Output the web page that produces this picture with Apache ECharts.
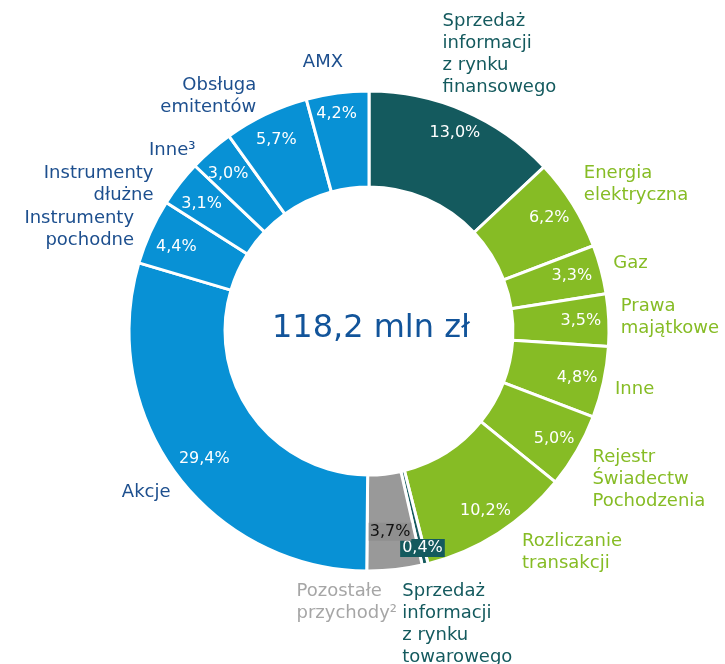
<!DOCTYPE html>
<html>
<head>
<meta charset="utf-8">
<script src="https://cdn.jsdelivr.net/npm/echarts@6/dist/echarts.min.js"></script>
<style>
  html, body { margin: 0; padding: 0; background: #fff; }
  #revenue { width: 725px; height: 664px; }
</style>
</head>
<body>
<div id="revenue"></div>
<script>
'use strict';

// revenue segments, clockwise from 12 o'clock
var segments = [
    'Sprzedaż\ninformacji\nz rynku\nfinansowego',
    'Energia\nelektryczna',
    'Gaz',
    'Prawa\nmajątkowe',
    'Inne',
    'Rejestr\nŚwiadectw\nPochodzenia',
    'Rozliczanie\ntransakcji',
    'Sprzedaż\ninformacji\nz rynku\ntowarowego',
    'Pozostałe\nprzychody²',
    'Akcje',
    'Instrumenty\npochodne',
    'Instrumenty\ndłużne',
    'Inne³',
    'Obsługa\nemitentów',
    'AMX'
];
var shares = [13.0, 6.2, 3.3, 3.5, 4.8, 5.0, 10.2, 0.4, 3.7, 29.4, 4.4, 3.1, 3.0, 5.7, 4.2];
var groups = ['info', 'power', 'power', 'power', 'power', 'power', 'power', 'info', 'other',
              'cash', 'cash', 'cash', 'cash', 'cash', 'cash'];
var totalLabel = '118,2 mln zł';

var fillColors = { info: '#145a5e', power: '#86bc25', other: '#999999', cash: '#0891d5' };
var textColors = { info: '#145a5e', power: '#86bc25', other: '#a6a6a6', cash: '#1d4f8e' };

// hand nudges for the labels, same order as segments
var nameNudge = [[-29, -40], [-4, -10], [-5, -1], [-6, -2], [-6, 3], [0, 19], [14, 4],
                 [-27, 42], [-100, 15], [9, 8], [0, 5], [-12, 12], [-4, 14], [-2, -2], [8, -13]];
var pctNudge = [[0, 0], [-3, 1], [-6, 0], [-4, 0], [-3, 1], [-2, 0], [0, -2],
                [3, 7], [-2, -14], [9, -1], [4, 5], [3, 6], [1, 6], [0, 4], [-4, -3]];

var FONT = '"DejaVu Sans", Verdana, sans-serif';
var CENTER = [369, 331];

function pct(v) {
    return v.toFixed(1).replace('.', ',') + '%';
}

var chart = echarts.init(document.getElementById('revenue'));

var ringData = segments.map(function (name, i) {
    return { name: name, value: shares[i], itemStyle: { color: fillColors[groups[i]] } };
});

var pctData = segments.map(function (name, i) {
    var item = { name: name, value: shares[i], label: { offset: pctNudge[i] } };
    if (groups[i] === 'other') {
        item.label.backgroundColor = '#8f8f8f';
        item.label.color = '#111';
        item.label.padding = [2, 1, 0, 1];
    } else if (groups[i] === 'info' && shares[i] < 1) {
        item.label.backgroundColor = '#145a5e';
        item.label.padding = [2, 2, 0, 2];
    }
    return item;
});

var nameData = segments.map(function (name, i) {
    return { name: name, value: shares[i], label: { color: textColors[groups[i]], offset: nameNudge[i] } };
});

var option = {
    animation: false,
    graphic: [{
        type: 'text',
        x: CENTER[0] + 2,
        y: CENTER[1] - 2,
        style: {
            text: totalLabel, font: '32px ' + FONT, fill: '#12549a',
            align: 'center', verticalAlign: 'middle'
        }
    }],
    series: [
        {
            name: 'ring',
            type: 'pie',
            center: CENTER,
            radius: [144, 240],
            startAngle: 90,
            silent: true,
            itemStyle: { borderColor: '#fff', borderWidth: 3 },
            label: { show: false },
            labelLine: { show: false },
            data: ringData
        },
        {
            name: 'percent',
            type: 'pie',
            center: CENTER,
            radius: [188, 238],
            startAngle: 90,
            silent: true,
            avoidLabelOverlap: false,
            labelLayout: { hideOverlap: false },
            itemStyle: { color: 'transparent' },
            label: {
                show: true,
                position: 'inside',
                color: '#fff',
                fontFamily: FONT,
                fontSize: 16,
                formatter: function (p) { return pct(p.value); }
            },
            labelLine: { show: false },
            data: pctData
        },
        {
            name: 'names',
            type: 'pie',
            center: CENTER,
            radius: [144, 240],
            startAngle: 90,
            silent: true,
            avoidLabelOverlap: false,
            labelLayout: { hideOverlap: false },
            itemStyle: { color: 'transparent' },
            label: {
                show: true,
                position: 'outside',
                fontFamily: FONT,
                fontSize: 18,
                lineHeight: 22,
                distanceToLabelLine: 0,
                formatter: '{b}'
            },
            labelLine: { show: false, length: 18, length2: 0 },
            data: nameData
        }
    ]
};

chart.setOption(option);
</script>
</body>
</html>
